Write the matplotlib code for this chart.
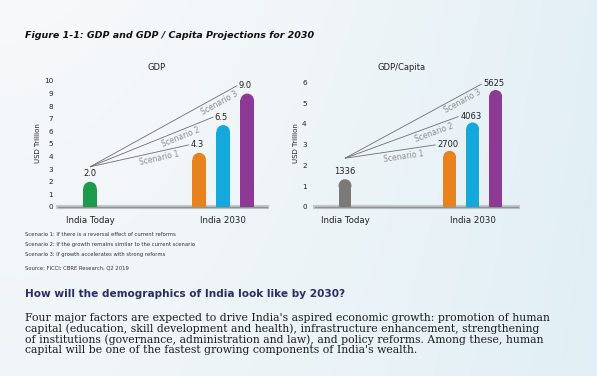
import numpy as np
import matplotlib.pyplot as plt
from matplotlib.patches import Ellipse

# ---- data ----
categories = ["India Today", "India 2030"]
scenarios = ["Scenario 1", "Scenario 2", "Scenario 3"]

gdp_today = 2.0
gdp_2030 = [4.3, 6.5, 9.0]
gdp_today_label = "2.0"
gdp_2030_labels = ["4.3", "6.5", "9.0"]
gdp_ticks = list(range(0, 11))

capita_today = 1336
capita_2030 = [2700, 4063, 5625]
capita_ticks = list(range(0, 7))  # axis is drawn in thousands

footnotes = [
    "Scenario 1: If there is a reversal effect of current reforms",
    "Scenario 2: If the growth remains similar to the current scenario",
    "Scenario 3: If growth accelerates with strong reforms",
]
source = "Source: FICCI; CBRE Research, Q2 2019"
title = "Figure 1-1: GDP and GDP / Capita Projections for 2030"
heading = "How will the demographics of India look like by 2030?"
paragraph = [
    "Four major factors are expected to drive India's aspired economic growth: promotion of human",
    "capital (education, skill development and health), infrastructure enhancement, strengthening",
    "of institutions (governance, administration and law), and policy reforms. Among these, human",
    "capital will be one of the fastest growing components of India's wealth.",
]

# ---- styles ----
scen_colors = ["#e8821e", "#14a8dd", "#8c3a95"]
today_colors = ["#1e9a4c", "#7a7a7a"]
W, H = 597, 376
today_x = 0.0
group_x = [4.55, 5.55, 6.55]
bar_w = 0.56

fig = plt.figure(figsize=(W / 100, H / 100), dpi=100)

# soft page background
bg = fig.add_axes([0, 0, 1, 1], zorder=-10)
bg.axis("off")
yy, xx = np.mgrid[0:1:200j, 0:1:300j]
t = np.clip(0.8 * xx ** 1.6 + 0.2 * yy * (1 - xx) + 0.1 * yy, 0, 1)
c0 = np.array([0.968, 0.974, 0.98])
c1 = np.array([0.87, 0.932, 0.96])
bg.imshow(c0 + (c1 - c0) * t[..., None], aspect="auto", extent=[0, 1, 0, 1])


def px_rect(left, right, bottom, top):
    return [left / W, 1 - bottom / H, (right - left) / W, (bottom - top) / H]


def rounded_bar(ax, x, h, color):
    p0 = ax.transData.transform((0, 0))
    p1 = ax.transData.transform((bar_w, 1))
    r = ((p1[0] - p0[0]) / 2) / (p1[1] - p0[1])
    ax.bar(x, h - r, bar_w, color=color, lw=0, zorder=3)
    ax.add_patch(Ellipse((x, h - r), bar_w, 2 * r, color=color, lw=0, zorder=3))


def panel(ax, today_val, vals, today_label, val_labels, today_color,
          ylim, ticks, xlim, start_off, end_off, text_t, ypad):
    ax.set_xlim(*xlim)
    ax.set_ylim(*ylim)
    ax.patch.set_alpha(0)
    for s in ax.spines.values():
        s.set_visible(False)
    ax.set_yticks(ticks)
    ax.set_yticklabels([str(v) for v in ticks])
    ax.tick_params(axis="y", length=0, labelsize=5.2, pad=ypad, colors="#222222")
    ax.set_xticks([today_x, group_x[1]])
    ax.set_xticklabels(categories)
    ax.tick_params(axis="x", length=0, labelsize=6.2, pad=6.5, colors="#222222")

    # shaded base line
    ax.axhline(0, color="#c4c8cb", lw=3.0, zorder=1, clip_on=False)
    ax.axhline(0, color="#8f9396", lw=1.0, zorder=1, clip_on=False)

    rounded_bar(ax, today_x, today_val, today_color)
    for x, v, c in zip(group_x, vals, scen_colors):
        rounded_bar(ax, x, v, c)

    ax.annotate(today_label, xy=(today_x, today_val), xytext=(0, 2.5),
                textcoords="offset points", ha="center", va="bottom",
                fontsize=6, color="#222222")

    inv = ax.transData.inverted()
    start = ax.transData.transform((today_x, today_val)) + np.array([0, start_off])
    for i, (x, v) in enumerate(zip(group_x, vals)):
        end = ax.transData.transform((x, v)) + np.array(end_off)
        s_d, e_d = inv.transform(start), inv.transform(end)
        ax.plot([s_d[0], e_d[0]], [s_d[1], e_d[1]], color="#6e6e6e", lw=0.6,
                zorder=2, solid_capstyle="butt")
        ax.annotate(val_labels[i], xy=e_d, xytext=(1.2, 0), textcoords="offset points",
                    ha="left", va="center", fontsize=6, color="#222222")
        d = end - start
        a = np.arctan2(d[1], d[0])
        p = start + text_t[i] * d + 6.5 * np.array([np.sin(a), -np.cos(a)])
        pd_ = inv.transform(p)
        ax.text(pd_[0], pd_[1], scenarios[i], rotation=np.degrees(a),
                rotation_mode="anchor", ha="center", va="center",
                fontsize=5.5, color="#8d8d8d", zorder=2)


ax1 = fig.add_axes(px_rect(58, 267, 207, 207 - 10.6 * 12.6))
panel(ax1, gdp_today, gdp_2030, gdp_today_label, gdp_2030_labels, today_colors[0],
      (0, 10.6), gdp_ticks, (-32 / 24, 177 / 24), 15, (-10, 8),
      [0.68, 0.72, 0.86], 3.5)

ax2 = fig.add_axes(px_rect(315, 518, 207, 207 - 6.3 * 20.8))
panel(ax2, capita_today / 1000, [v / 1000 for v in capita_2030], str(capita_today),
      [str(v) for v in capita_2030], today_colors[1],
      (0, 6.3), capita_ticks, (-30 / 23, 173 / 23), 21, (-14, 6),
      [0.64, 0.76, 0.84], 6)

# ---- text around the chart ----
fig.text(25 / W, 1 - 36 / H, title, fontsize=6.8, fontweight="heavy", style="italic",
         color="#111111", va="center")
fig.text(157 / W, 1 - 67 / H, "GDP", fontsize=6, ha="center", va="center", color="#222222")
fig.text(402 / W, 1 - 68 / H, "GDP/Capita", fontsize=6, ha="center", va="center", color="#222222")
for x in (38, 296):
    fig.text(x / W, 1 - 143 / H, "USD Trillion", rotation=90, fontsize=5,
             ha="center", va="center", color="#222222")

for i, line in enumerate(footnotes):
    fig.text(25 / W, 1 - (234.5 + 10 * i) / H, line, fontsize=3.8, va="center", color="#333333")
fig.text(25 / W, 1 - 268 / H, source, fontsize=3.8, va="center", color="#333333")

fig.text(25 / W, 1 - 294 / H, heading, fontsize=7.6, fontweight="bold",
         va="center", color="#2c2b6c")
for i, line in enumerate(paragraph):
    fig.text(25 / W, 1 - (318 + 10.8 * i) / H, line, fontsize=7.8, family="DejaVu Serif",
             va="center", color="#1e1e1e")

fig.savefig("out.png", dpi=100)
